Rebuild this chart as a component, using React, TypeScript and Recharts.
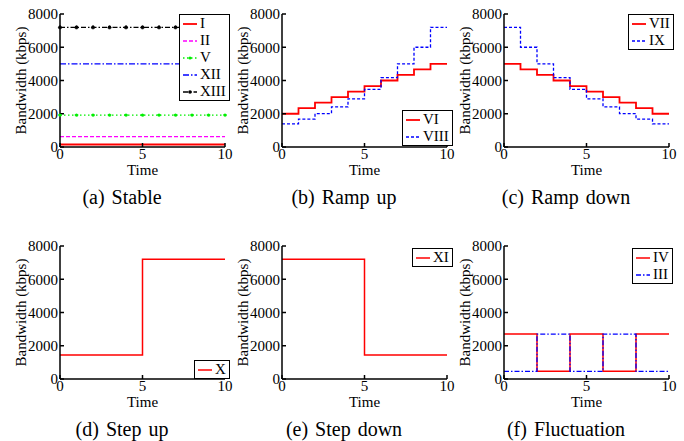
import { LineChart, Line, XAxis, YAxis, Legend } from "recharts";

const TIME = [0, 1, 2, 3, 4, 5, 6, 7, 8, 9, 10];
const X_TICKS = [0, 5, 10];
const Y_TICKS = [0, 2000, 4000, 6000, 8000];

// (a) stable
const STABLE_I = [150, 150, 150, 150, 150, 150, 150, 150, 150, 150, 150];
const STABLE_II = [620, 620, 620, 620, 620, 620, 620, 620, 620, 620, 620];
const STABLE_V = [1920, 1920, 1920, 1920, 1920, 1920, 1920, 1920, 1920, 1920, 1920];
const STABLE_XII = [5000, 5000, 5000, 5000, 5000, 5000, 5000, 5000, 5000, 5000, 5000];
const STABLE_XIII = [7200, 7200, 7200, 7200, 7200, 7200, 7200, 7200, 7200, 7200, 7200];

// (b) ramp up
const RAMP_UP_VI = [2000, 2333, 2667, 3000, 3333, 3667, 4000, 4333, 4667, 5000, 5000];
const RAMP_UP_VIII = [1395, 1674, 2009, 2411, 2894, 3472, 4167, 5000, 6000, 7200, 7200];

// (c) ramp down
const RAMP_DOWN_VII = [5000, 4667, 4333, 4000, 3667, 3333, 3000, 2667, 2333, 2000, 2000];
const RAMP_DOWN_IX = [7200, 6000, 5000, 4167, 3472, 2894, 2411, 2009, 1674, 1395, 1395];

// (d) step up, (e) step down
const STEP_UP_X = [1440, 1440, 1440, 1440, 1440, 7200, 7200, 7200, 7200, 7200, 7200];
const STEP_DOWN_XI = [7200, 7200, 7200, 7200, 7200, 1440, 1440, 1440, 1440, 1440, 1440];

// (f) fluctuation
const FLUCT_IV = [2700, 2700, 460, 460, 2700, 2700, 460, 460, 2700, 2700, 2700];
const FLUCT_III = [460, 460, 2700, 2700, 460, 460, 2700, 2700, 460, 460, 460];

const FONT = "'Liberation Serif', 'DejaVu Serif', serif";
const RED = "#ff0000";
const BLUE = "#0000ff";

type Series = {
  name: string;
  values: number[];
  color: string;
  dash?: string;
  width?: number;
  dot?: number;
};

function toRows(series: Series[]) {
  return TIME.map((t, i) => {
    const row: Record<string, number> = { t };
    series.forEach((s) => {
      row[s.name] = s.values[i];
    });
    return row;
  });
}

function LegendBox({ series }: { series: Series[] }) {
  return (
    <div
      style={{
        border: "1.5px solid #000",
        background: "#fff",
        padding: "0 3px 0 2px",
        fontFamily: FONT,
        fontSize: 15,
        color: "#000",
      }}
    >
      {series.map((s) => (
        <div key={s.name} style={{ display: "flex", alignItems: "center", height: 17 }}>
          <svg width={16} height={8} style={{ marginRight: 2 }}>
            <line
              x1={1}
              x2={15}
              y1={4}
              y2={4}
              stroke={s.color}
              strokeWidth={s.width ?? 1.3}
              strokeDasharray={s.dash}
            />
            {s.dot ? <circle cx={8} cy={4} r={s.dot} fill={s.color} /> : null}
          </svg>
          <span style={{ lineHeight: "17px" }}>{s.name}</span>
        </div>
      ))}
    </div>
  );
}

interface PanelProps {
  left: number;
  top: number;
  series: Series[];
  legendLeft: number;
  legendTop: number;
  caption: string;
  captionTop: number;
}

function Panel({ left, top, series, legendLeft, legendTop, caption, captionTop }: PanelProps) {
  const data = toRows(series);
  const tickStyle = { fontSize: 15, fill: "#000", fontFamily: FONT };
  return (
    <>
      <div style={{ position: "absolute", left, top }}>
        <LineChart width={230} height={173} data={data} margin={{ top: 10, right: 10, left: 0, bottom: 0 }}>
          <XAxis
            dataKey="t"
            type="number"
            domain={[0, 10]}
            ticks={X_TICKS}
            interval={0}
            height={30}
            tickSize={-4}
            tickMargin={5}
            tick={tickStyle}
            stroke="#000"
            strokeWidth={1.5}
            label={{ value: "Time", position: "insideBottom", offset: 2, style: { fontSize: 15, fill: "#000", fontFamily: FONT } }}
          />
          <XAxis
            xAxisId="top"
            orientation="top"
            dataKey="t"
            type="number"
            domain={[0, 10]}
            allowDataOverflow
            ticks={X_TICKS}
            interval={0}
            height={0}
            tickSize={-4}
            tickFormatter={() => ""}
            stroke="#000"
            strokeWidth={1.5}
          />
          <YAxis
            type="number"
            domain={[0, 8000]}
            ticks={Y_TICKS}
            interval={0}
            width={55}
            tickSize={-4}
            tickMargin={6}
            tick={tickStyle}
            stroke="#000"
            strokeWidth={1.5}
            label={{
              value: "Bandwidth (kbps)",
              angle: -90,
              position: "insideLeft",
              offset: 16,
              style: { textAnchor: "middle", fontSize: 15, fill: "#000", fontFamily: FONT },
            }}
          />
          <YAxis
            yAxisId="right"
            orientation="right"
            type="number"
            domain={[0, 8000]}
            allowDataOverflow
            ticks={Y_TICKS}
            interval={0}
            width={0}
            tickSize={-4}
            tickFormatter={() => ""}
            stroke="#000"
            strokeWidth={1.5}
          />
          {series.map((s) => (
            <Line
              key={s.name}
              type="stepAfter"
              dataKey={s.name}
              stroke={s.color}
              strokeWidth={s.width ?? 1.3}
              strokeDasharray={s.dash}
              dot={s.dot ? { r: s.dot, fill: s.color, stroke: s.color, strokeWidth: 0.5 } : false}
              isAnimationActive={false}
            />
          ))}
          <Legend
            layout="vertical"
            align="center"
            verticalAlign="middle"
            wrapperStyle={{ left: legendLeft, top: legendTop, width: "auto", height: "auto" }}
            content={() => <LegendBox series={series} />}
          />
        </LineChart>
      </div>
      <div
        style={{
          position: "absolute",
          left: left + 55 + 82 - 20,
          top: captionTop,
          transform: "translateX(-50%)",
          whiteSpace: "nowrap",
          fontFamily: FONT,
          fontSize: 20,
          wordSpacing: 2,
          color: "#000",
        }}
      >
        {caption}
      </div>
    </>
  );
}

export default function App() {
  return (
    <div style={{ position: "absolute", left: 0, top: 0, width: 684, height: 441, background: "#fff" }}>
      <Panel
        left={5}
        top={4}
        caption="(a) Stable"
        captionTop={186}
        legendLeft={174}
        legendTop={10}
        series={[
          { name: "I", values: STABLE_I, color: RED, width: 1.8 },
          { name: "II", values: STABLE_II, color: "#ff00ff", dash: "4 2" },
          { name: "V", values: STABLE_V, color: "#00ee00", dash: "1.5 2.5", dot: 1.6 },
          { name: "XII", values: STABLE_XII, color: BLUE, dash: "6 2 1.5 2" },
          { name: "XIII", values: STABLE_XIII, color: "#000", dash: "5 2 1.5 2", dot: 1.8 },
        ]}
      />
      <Panel
        left={227}
        top={4}
        caption="(b) Ramp up"
        captionTop={186}
        legendLeft={175}
        legendTop={106}
        series={[
          { name: "VI", values: RAMP_UP_VI, color: RED, width: 1.8 },
          { name: "VIII", values: RAMP_UP_VIII, color: BLUE, dash: "3 2" },
        ]}
      />
      <Panel
        left={449}
        top={4}
        caption="(c) Ramp down"
        captionTop={186}
        legendLeft={179}
        legendTop={10}
        series={[
          { name: "VII", values: RAMP_DOWN_VII, color: RED, width: 1.8 },
          { name: "IX", values: RAMP_DOWN_IX, color: BLUE, dash: "3 2" },
        ]}
      />
      <Panel
        left={5}
        top={236}
        caption="(d) Step up"
        captionTop={418}
        legendLeft={189}
        legendTop={124}
        series={[{ name: "X", values: STEP_UP_X, color: RED, width: 1.5 }]}
      />
      <Panel
        left={227}
        top={236}
        caption="(e) Step down"
        captionTop={418}
        legendLeft={185}
        legendTop={12}
        series={[{ name: "XI", values: STEP_DOWN_XI, color: RED, width: 1.5 }]}
      />
      <Panel
        left={449}
        top={236}
        caption="(f) Fluctuation"
        captionTop={418}
        legendLeft={183}
        legendTop={12}
        series={[
          { name: "IV", values: FLUCT_IV, color: RED, width: 1.5 },
          { name: "III", values: FLUCT_III, color: BLUE, dash: "5 2 1.5 2" },
        ]}
      />
    </div>
  );
}
